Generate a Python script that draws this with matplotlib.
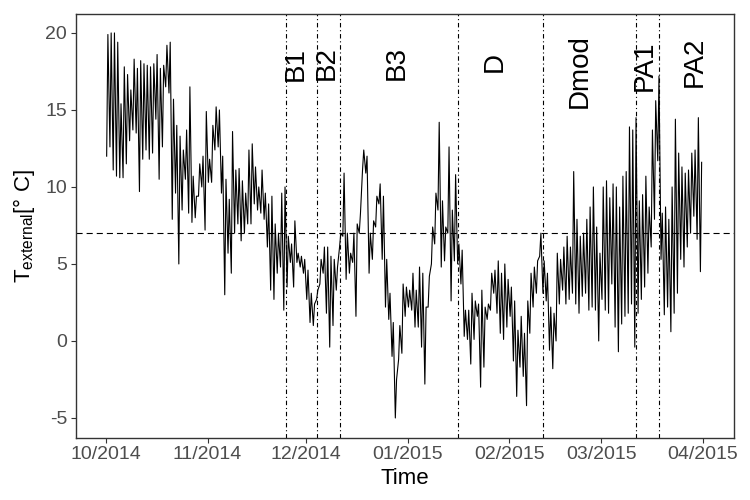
import numpy as np
import pandas as pd
import matplotlib
matplotlib.use('Agg')
import matplotlib.pyplot as plt
import matplotlib.dates as mdates

plt.rcParams['font.family'] = 'Liberation Sans'
plt.rcParams['mathtext.fontset'] = 'custom'
plt.rcParams['mathtext.rm'] = 'Liberation Sans'
plt.rcParams['axes.unicode_minus'] = False

# daily max / min of external temperature, 01.10.2014 - 31.03.2015
FIRST_DAY = '2014-10-01'
t_max = [19.9, 20.0, 20.0, 19.4, 15.4, 17.8, 17.3, 16.3, 18.3, 17.7,
         18.2, 18.0, 17.9, 17.8, 18.0, 18.6, 17.7, 17.9, 19.2, 19.4,
         15.7, 14.0, 13.3, 12.4, 13.7, 16.5, 10.7, 9.4, 11.5, 12.0,
         14.9, 11.8, 14.0, 15.2, 15.0, 12.0, 10.5, 9.2, 13.6, 11.1,
         11.2, 10.4, 9.6, 12.4, 12.8, 11.3, 10.0, 11.1, 9.6, 8.9,
         9.4, 7.6, 7.0, 9.6, 10.0, 6.8, 6.3, 7.8, 5.7, 5.5,
         5.3, 4.6, 3.1, 2.4, 3.3, 5.3, 6.1, 6.1, 5.5, 5.3,
         4.8, 7.0, 10.9, 7.0, 5.7, 7.0, 7.6, 8.3, 12.4, 12.0,
         7.0, 7.8, 9.4, 10.2, 9.4, 5.3, 3.1, 1.2, -2.5, 1.0,
         3.7, 3.5, 3.3, 4.4, 3.3, 4.8, 4.4, 2.2, 4.2, 7.4,
         9.6, 14.2, 9.1, 7.4, 12.6, 8.5, 10.8, 6.3, 5.9, 2.0,
         2.0, 3.1, 2.6, 2.4, 3.3, 2.2, 2.4, 4.4, 4.6, 5.2,
         4.4, 5.0, 4.0, 3.5, 2.6, 0.7, 1.6, 0.5, 2.6, 4.4,
         4.8, 5.2, 7.0, 5.2, 4.4, 2.2, 1.8, 5.7, 5.3, 6.1,
         6.8, 6.1, 11.0, 7.9, 6.8, 7.0, 7.9, 8.7, 10.0, 7.4,
         5.7, 10.0, 10.4, 9.3, 10.2, 10.0, 8.7, 10.7, 11.0, 13.9,
         13.7, 14.5, 9.1, 9.5, 10.7, 8.7, 13.7, 15.6, 17.2, 8.3,
         8.7, 7.9, 10.0, 14.4, 12.2, 11.3, 10.9, 11.1, 12.2, 12.4,
         14.5, 11.6]
t_min = [12.0, 12.6, 11.1, 10.7, 10.6, 10.6, 11.5, 13.0, 13.7, 13.5,
         9.7, 11.8, 12.4, 11.8, 12.2, 14.4, 10.5, 12.6, 16.5, 16.1,
         7.9, 9.6, 5.0, 8.5, 10.5, 8.3, 7.7, 8.0, 9.4, 10.0,
         7.2, 10.3, 10.3, 12.4, 12.6, 9.6, 3.0, 5.7, 4.4, 7.0,
         7.6, 6.5, 7.0, 7.6, 7.6, 8.9, 8.5, 8.3, 7.9, 6.1,
         3.3, 2.7, 4.4, 4.8, 2.0, 3.5, 5.1, 3.5, 5.1, 4.8,
         4.4, 2.7, 1.2, 1.0, 2.7, 3.7, 4.4, 1.8, -0.4, 1.0,
         3.3, 6.1, 6.8, 4.0, 4.4, 5.1, 1.6, 7.0, 11.1, 10.9,
         4.4, 5.3, 7.4, 8.9, 5.3, 2.2, 1.4, -1.0, -5.0, -1.2,
         -0.8, 1.6, 2.2, 2.0, 0.9, 0.9, -0.4, -2.8, 2.2, 5.0,
         6.3, 8.5, 4.8, 5.2, 7.0, 2.6, 5.2, 5.0, 3.7, 0.3,
         0.1, -1.5, 0.1, 1.6, -3.0, -1.7, 1.4, 2.0, 3.1, 1.8,
         0.5, 0.1, 0.9, 1.6, -1.3, -3.6, -1.7, -2.3, -4.2, 0.5,
         2.2, 3.1, 5.5, 3.1, 2.6, -0.6, -1.8, 0.0, 2.4, 3.3,
         2.4, 2.7, 3.1, 2.4, 1.8, 2.9, 3.1, 2.0, 2.2, 2.0,
         0.0, 2.7, 2.0, 1.8, 3.7, 0.9, -0.7, 1.1, 1.6, 1.8,
         2.4, -0.4, 1.8, 2.7, 3.5, 4.4, 6.1, 7.9, 11.7, 5.3,
         1.7, 2.2, 0.6, 1.8, 3.1, 5.3, 4.8, 6.1, 7.0, 8.1,
         6.6, 4.5]

THRESHOLD = 7
event_dates = ['2014-11-25 00:00', '2014-12-04 12:00', '2014-12-11 12:00',
               '2015-01-16 07:00', '2015-02-11 09:00', '2015-03-11 12:00',
               '2015-03-18 14:00']
phase_names = ['B1', 'B2', 'B3', 'D', 'Dmod', 'PA1', 'PA2']
phase_label_dates = ['2014-11-30 04:00', '2014-12-09 08:00', '2014-12-30 16:00',
                     '2015-01-29 13:00', '2015-02-24 11:00', '2015-03-16 13:00',
                     '2015-03-31 13:00']
phase_label_y = [18.0, 18.05, 18.05, 18.1, 17.5, 17.85, 18.1]
month_ticks = ['2014-10-01', '2014-11-01', '2014-12-01', '2015-01-01',
               '2015-02-01', '2015-03-01', '2015-04-01']

# build the time series: minimum in the early morning, maximum in the afternoon
days = pd.date_range(FIRST_DAY, periods=len(t_max), freq='D')
times, temps = [], []
for d, lo, hi in zip(days, t_min, t_max):
    times += [d + pd.Timedelta(hours=6), d + pd.Timedelta(hours=15)]
    temps += [lo, hi]

fig = plt.figure(figsize=(7.5, 5), dpi=100)
ax = fig.add_axes([0.1007, 0.124, 0.878, 0.848])

ax.plot(times, temps, color='black', lw=0.8)
ax.axhline(THRESHOLD, color='black', lw=0.8, ls=(0, (5.5, 3.6)))
for d in event_dates:
    ax.axvline(pd.Timestamp(d), color='black', lw=0.8, ls=(0, (4, 2.5, 1, 2.5)))

for name, d, y in zip(phase_names, phase_label_dates, phase_label_y):
    ax.text(pd.Timestamp(d), y, name, rotation=90, rotation_mode='anchor',
            ha='center', va='baseline', fontsize=20, color='black')

t0 = pd.Timestamp(FIRST_DAY)
ax.set_xlim(t0 - pd.Timedelta(days=9.24), t0 + pd.Timedelta(days=191.5))
ax.set_ylim(-6.30, 21.23)
ax.set_xticks([pd.Timestamp(t) for t in month_ticks])
ax.xaxis.set_major_formatter(mdates.DateFormatter('%m/%Y'))
ax.set_yticks([-5, 0, 5, 10, 15, 20])

for s in ax.spines.values():
    s.set_color('#333333')
    s.set_linewidth(1.0)
ax.tick_params(axis='both', length=3.5, width=0.8, color='#333333',
               labelsize=14, labelcolor='#4D4D4D', pad=2.5)

ax.set_xlabel('Time', fontsize=16, labelpad=3)
ax.set_ylabel(r'T$_{\mathregular{external}}$[° C]', fontsize=16, labelpad=6)

fig.savefig('out.png', dpi=100)
